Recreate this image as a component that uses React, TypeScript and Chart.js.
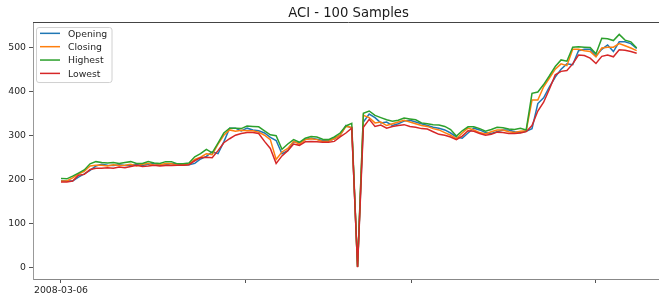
import React, { useEffect, useRef } from 'react';
import { Chart, registerables } from 'chart.js';

Chart.register(...registerables);

const chartTitle = 'ACI - 100 Samples';
const seriesNames = ['Opening', 'Closing', 'Highest', 'Lowest'];
const seriesColors = ['#1f77b4', '#ff7f0e', '#2ca02c', '#d62728'];

const opening = [
  197, 196, 196, 205, 212, 220, 230, 234, 232, 231,
  233, 231, 232, 234, 231, 234, 236, 232, 233, 236,
  235, 232, 233, 236, 246, 252, 262, 258, 285, 316,
  316, 310, 316, 312, 310, 305, 295, 288, 258, 265,
  285, 283, 290, 293, 291, 288, 287, 292, 300, 322,
  316, 1, 330, 348, 340, 328, 330, 322, 326, 332,
  334, 330, 326, 322, 318, 316, 312, 305, 296, 293,
  305, 316, 312, 306, 304, 308, 312, 312, 308, 306,
  309, 315, 372, 385, 410, 432, 450, 462, 460, 492,
  495, 495, 480, 495, 505, 490, 512, 512, 508, 497,
];
const closing = [
  196, 196, 203, 212, 218, 230, 232, 232, 230, 233,
  231, 232, 234, 230, 234, 236, 232, 233, 236, 235,
  232, 233, 234, 245, 250, 258, 256, 280, 300, 312,
  309, 311, 310, 310, 307, 300, 290, 245, 262, 270,
  286, 280, 290, 292, 290, 286, 287, 292, 300, 320,
  318, 1, 345, 340, 328, 330, 322, 326, 330, 334,
  330, 326, 322, 320, 315, 312, 306, 300, 292, 305,
  316, 312, 306, 303, 308, 312, 312, 308, 306, 309,
  310, 380, 380, 410, 430, 450, 462, 458, 495, 495,
  492, 490, 478, 498, 500, 500, 508, 503, 498, 492,
];
const highest = [
  202, 201, 207, 214, 221, 235, 240, 238, 237, 238,
  236, 238, 240, 236, 236, 240, 237, 236, 240, 240,
  235, 235, 237, 251, 258, 268, 260, 282, 305, 316,
  316, 315, 321, 320, 319, 310, 301, 299, 268, 280,
  290, 284, 293, 297, 296, 291, 290, 296, 305, 321,
  327, 2, 350, 355, 345, 340, 335, 332, 334, 339,
  337, 335, 328, 326, 324, 323, 320, 313, 298, 310,
  319, 319, 315, 309, 313, 318, 317, 314, 313, 316,
  312, 395, 398, 415, 435, 456, 471, 468, 500, 501,
  500, 499, 485, 520, 519, 515, 529, 516, 512, 498,
];
const lowest = [
  194, 194, 196, 209, 211, 222, 225, 225, 226, 225,
  228, 226, 229, 232, 229, 230, 232, 230, 231, 231,
  232, 232, 233, 242, 249, 250, 249, 265, 283, 292,
  300, 304, 306, 306, 304, 286, 270, 236, 253, 265,
  280, 277, 285, 286, 285, 284, 284, 286, 296, 305,
  316, 0, 318, 336, 320, 323, 316, 320, 322, 324,
  320, 318, 315, 314, 308, 302, 300, 296, 290, 298,
  310, 309, 304, 300, 302, 307, 306, 304, 304, 305,
  308, 322, 355, 375, 405, 437, 445, 447, 462, 482,
  481, 475, 463, 479, 482, 478, 494, 493, 490, 486,
];

const xTickValues = [0, 31.8, 60.3, 91.95];
const xTickLabels = ['2008-03-06', '', '', ''];
const yTickValues = [0, 100, 200, 300, 400, 500];

const FONT = 'DejaVu Sans';
const TEXT = '#262626';

export default function App() {
  const ref = useRef<HTMLCanvasElement>(null);

  useEffect(() => {
    const canvas = ref.current;
    if (!canvas) return;
    const all = [opening, closing, highest, lowest];
    const datasets = all.map((arr, k) => ({
      label: seriesNames[k],
      data: arr.map((v, i) => ({ x: i, y: v })),
      borderColor: seriesColors[k],
      backgroundColor: seriesColors[k],
      borderWidth: 1.5,
      pointRadius: 0,
      pointHoverRadius: 0,
      tension: 0,
      fill: false,
      order: 4 - k,
    }));

    const framePlugin = {
      id: 'frameAndLegend',
      afterDraw(chart: any) {
        const { ctx, chartArea } = chart;
        ctx.save();
        // top spine
        ctx.strokeStyle = '#444';
        ctx.lineWidth = 1;
        ctx.beginPath();
        ctx.moveTo(chartArea.left, Math.round(chartArea.top) + 0.5);
        ctx.lineTo(chartArea.right, Math.round(chartArea.top) + 0.5);
        ctx.stroke();
        // legend box
        const bx = chartArea.left + 3.5;
        const by = chartArea.top + 5.5;
        const bw = 75.5;
        const bh = 55;
        ctx.beginPath();
        ctx.roundRect(bx, by, bw, bh, 2.5);
        ctx.fillStyle = 'rgba(255,255,255,0.8)';
        ctx.fill();
        ctx.strokeStyle = '#d0d0d0';
        ctx.stroke();
        chart.data.datasets.forEach((ds: any, k: number) => {
          const y = chartArea.top + 11.3 + k * 13.35;
          ctx.strokeStyle = ds.borderColor;
          ctx.lineWidth = 1.5;
          ctx.beginPath();
          ctx.moveTo(chartArea.left + 7, y);
          ctx.lineTo(chartArea.left + 27, y);
          ctx.stroke();
          ctx.fillStyle = TEXT;
          ctx.font = `9.3px "${FONT}"`;
          ctx.textBaseline = 'middle';
          ctx.textAlign = 'left';
          ctx.fillText(ds.label, chartArea.left + 35, y + 0.8);
        });
        ctx.restore();
      },
    };

    const chart = new Chart(canvas, {
      type: 'line',
      data: { datasets },
      plugins: [framePlugin],
      options: {
        responsive: false,
        animation: false,
        devicePixelRatio: 1,
        layout: { padding: { left: 0, right: 16, top: 0, bottom: 0 } },
        plugins: {
          legend: { display: false },
          tooltip: { enabled: false },
          title: {
            display: true,
            text: chartTitle,
            fullSize: false,
            color: '#1a1a1a',
            font: { family: FONT, size: 13.2, weight: 'normal' },
            padding: { top: 5.2, bottom: 1.0 },
          },
        },
        scales: {
          x: {
            type: 'linear',
            bounds: 'data',
            min: -4.815,
            max: 103.7,
            afterFit: (scale: any) => { scale.height = 17; },
            afterBuildTicks: (scale: any) => {
              scale.ticks = xTickValues.map((v) => ({ value: v }));
            },
            grid: { drawOnChartArea: false, drawTicks: true, tickLength: 4, color: '#555', lineWidth: 1 },
            border: { display: true, color: '#888', width: 1 },
            ticks: {
              autoSkip: false,
              maxRotation: 0,
              minRotation: 0,
              padding: 2,
              color: TEXT,
              font: { family: FONT, size: 9.3 },
              callback: (_v: any, i: number) => xTickLabels[i],
            },
          },
          y: {
            type: 'linear',
            bounds: 'data',
            min: -26.5,
            max: 557,
            afterFit: (scale: any) => { scale.width = 33; },
            afterBuildTicks: (scale: any) => {
              scale.ticks = yTickValues.map((v) => ({ value: v }));
            },
            grid: { drawOnChartArea: false, drawTicks: true, tickLength: 4, color: '#555', lineWidth: 1 },
            border: { display: true, color: '#999', width: 1 },
            ticks: {
              padding: 3,
              color: TEXT,
              font: { family: FONT, size: 9.3 },
              callback: (v: any) => String(v),
            },
          },
        },
      },
    } as any);

    return () => chart.destroy();
  }, []);

  return (
    <div style={{ position: 'fixed', left: 0, top: 0, width: 659, height: 296, overflow: 'hidden', background: '#fff' }}>
      <canvas ref={ref} width={680} height={296} style={{ display: 'block', width: 680, height: 296 }} />
    </div>
  );
}
